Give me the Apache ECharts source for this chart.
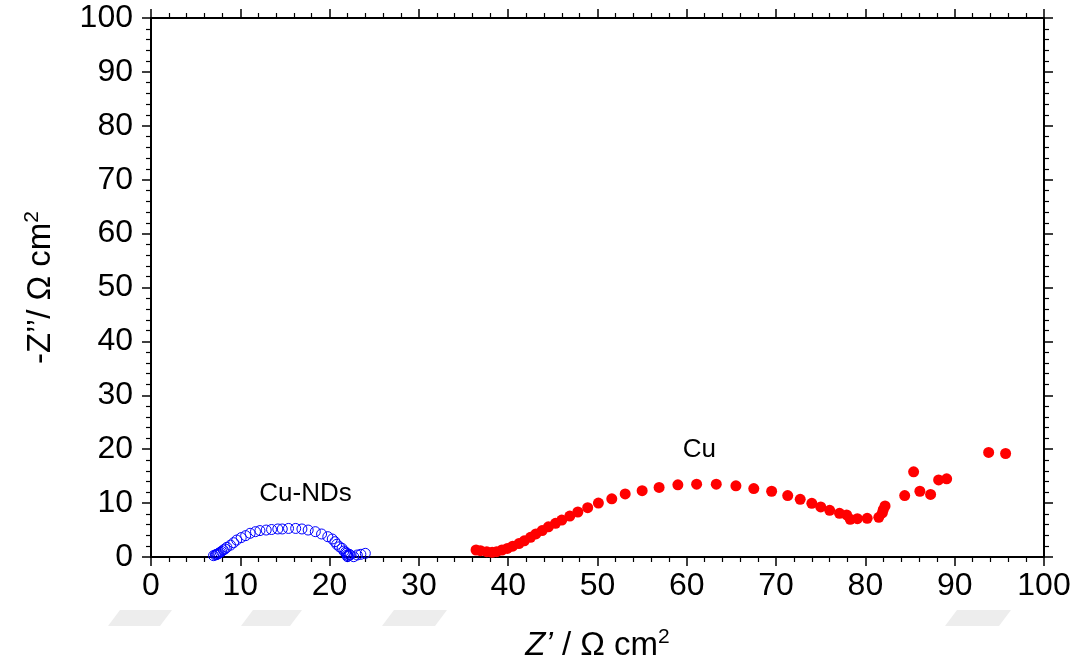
<!DOCTYPE html>
<html>
<head>
<meta charset="utf-8">
<script src="https://cdn.jsdelivr.net/npm/echarts@6/dist/echarts.min.js"></script>
<style>
  html, body { margin: 0; padding: 0; background: #fff; }
  #chart { width: 1078px; height: 668px; }
</style>
</head>
<body>
<div id="chart"></div>
<script>
// Nyquist data, Z' and -Z'' in ohm cm^2
const cuNdsZre = [7.0, 7.2, 7.3, 7.4, 7.5, 7.6, 7.76, 7.9, 8.1, 8.3, 8.5, 8.9, 9.25, 9.6, 10.1, 10.6, 11.1, 11.7, 12.2, 12.9, 13.5, 14.2, 14.7, 15.4, 16.2, 16.9, 17.6, 18.4, 19.1, 19.8, 20.3, 20.6, 20.8, 21.1, 21.4, 21.6, 21.8, 21.9, 21.95, 22.0, 22.1, 22.2, 22.3, 22.7, 23.1, 23.5, 24.0];
const cuNdsZim = [0.25, 0.37, 0.45, 0.5, 0.6, 0.7, 0.87, 1.05, 1.3, 1.5, 1.8, 2.2, 2.65, 3.15, 3.6, 3.96, 4.4, 4.7, 4.9, 5.0, 5.1, 5.2, 5.2, 5.3, 5.3, 5.2, 5.0, 4.7, 4.27, 3.77, 3.34, 2.84, 2.35, 1.9, 1.6, 1.1, 0.9, 0.68, 0.35, 0.06, 0.2, 0.5, 0.37, 0.06, 0.37, 0.5, 0.68];

const cuZre = [36.4, 36.9, 37.6, 38.2, 38.7, 39.3, 39.9, 40.5, 41.2, 41.8, 42.5, 43.1, 43.8, 44.5, 45.3, 46.0, 46.9, 47.8, 48.9, 50.1, 51.6, 53.1, 55.0, 56.9, 59.0, 61.1, 63.3, 65.5, 67.5, 69.5, 71.3, 72.7, 74.0, 75.0, 76.0, 77.1, 77.9, 78.3, 79.1, 80.2, 81.5, 81.9, 82.0, 82.2, 84.4, 85.4, 86.1, 87.3, 88.2, 89.1, 93.8, 95.7];
const cuZim = [1.3, 1.17, 0.98, 0.87, 0.98, 1.3, 1.6, 2.0, 2.5, 3.0, 3.65, 4.27, 4.9, 5.6, 6.25, 6.86, 7.6, 8.35, 9.15, 10.0, 10.8, 11.7, 12.3, 12.9, 13.4, 13.5, 13.5, 13.2, 12.7, 12.2, 11.4, 10.7, 9.96, 9.28, 8.66, 8.1, 7.8, 7.0, 7.1, 7.17, 7.36, 8.2, 8.8, 9.46, 11.4, 15.8, 12.2, 11.6, 14.3, 14.5, 19.4, 19.2];

// Curve annotations placed in data coordinates
const annText = ['Cu-NDs', 'Cu'];
const annX = [17.3, 61.4];
const annY = [11.7, 19.9];

const axisTicks = [0, 10, 20, 30, 40, 50, 60, 70, 80, 90, 100];

const FONT = "'Liberation Sans', Arial, sans-serif";

const zip = (a, b) => a.map((v, i) => [v, b[i]]);

const chart = echarts.init(document.getElementById('chart'), null, { renderer: 'canvas' });

const axisCommon = {
  type: 'value',
  min: axisTicks[0],
  max: axisTicks[axisTicks.length - 1],
  interval: axisTicks[1] - axisTicks[0],
  axisLine: { show: true, onZero: false, lineStyle: { color: '#000', width: 2 } },
  axisTick: { show: true, inside: false, length: 9, lineStyle: { color: '#000', width: 1.5 } },
  minorTick: { show: true, splitNumber: 5, length: 5, lineStyle: { color: '#000', width: 1.2 } },
  splitLine: { show: false }
};

// Faint slanted shapes below the x axis
const shapes = [[108, 172], [241, 302], [382, 447], [945, 1011]].map(([a, b]) => ({
  type: 'polygon',
  silent: true,
  z: -1,
  shape: { points: [[a + 12, 610], [b, 610], [b - 12, 626], [a, 626]] },
  style: { fill: '#ededed' }
}));

chart.setOption({
  animation: false,
  backgroundColor: '#fff',
  textStyle: { fontFamily: FONT },
  grid: { left: 151, right: 34, top: 18, bottom: 111, containLabel: false },
  graphic: shapes,
  xAxis: [
    Object.assign({}, axisCommon, {
      position: 'bottom',
      axisLabel: { show: true, margin: 13, color: '#000', fontSize: 32, fontFamily: FONT },
      name: '{i|Z’} / Ω cm{sup|2}',
      nameLocation: 'middle',
      nameGap: 70,
      nameTextStyle: {
        color: '#000', fontSize: 33, fontFamily: FONT,
        rich: {
          i: { fontStyle: 'italic', fontSize: 33, fontFamily: FONT, color: '#000' },
          sup: { fontSize: 21, verticalAlign: 'top', padding: [0, 0, 16, 0], fontFamily: FONT, color: '#000' }
        }
      }
    }),
    Object.assign({}, axisCommon, {
      position: 'top',
      axisLabel: { show: false }
    })
  ],
  yAxis: [
    Object.assign({}, axisCommon, {
      position: 'left',
      axisLabel: { show: true, margin: 18, color: '#000', fontSize: 32, fontFamily: FONT },
      name: '-Z’’/ Ω cm{sup|2}',
      nameLocation: 'middle',
      nameGap: 92,
      nameRotate: 90,
      nameTextStyle: {
        color: '#000', fontSize: 33, fontFamily: FONT,
        rich: {
          sup: { fontSize: 21, verticalAlign: 'top', padding: [0, 0, 16, 0], fontFamily: FONT, color: '#000' }
        }
      }
    }),
    Object.assign({}, axisCommon, {
      position: 'right',
      axisLabel: { show: false }
    })
  ],
  series: [
    {
      name: 'Cu-NDs',
      type: 'scatter',
      data: zip(cuNdsZre, cuNdsZim),
      symbol: 'circle',
      symbolSize: 10,
      itemStyle: { color: 'rgba(0,0,0,0)', borderColor: '#0000ff', borderWidth: 1, opacity: 1 },
      z: 3
    },
    {
      name: 'Cu',
      type: 'scatter',
      data: zip(cuZre, cuZim),
      symbol: 'circle',
      symbolSize: 11,
      itemStyle: { color: '#ff0000', opacity: 1 },
      z: 3
    },
    {
      name: 'labels',
      type: 'scatter',
      data: annText.map((t, i) => [annX[i], annY[i], t]),
      symbolSize: 0,
      silent: true,
      itemStyle: { opacity: 1 },
      label: {
        show: true,
        position: 'inside',
        formatter: p => p.value[2],
        color: '#000',
        fontSize: 26,
        fontFamily: FONT
      },
      z: 4
    }
  ]
});
</script>
</body>
</html>
